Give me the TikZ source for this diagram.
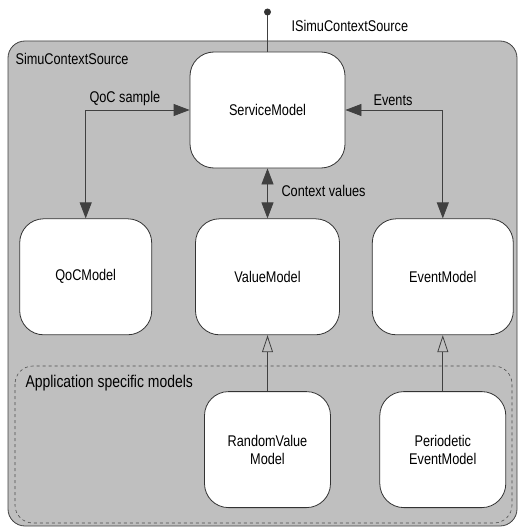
\documentclass[tikz,border=0pt]{standalone}
\usepackage{fontspec}
\setmainfont[FakeStretch=0.82]{Liberation Sans}
\usepackage{tikz}
\usetikzlibrary{arrows.meta, positioning}

\begin{document}
\begin{tikzpicture}[
  x=1pt, y=-1pt,
  font=\fontsize{15.5}{18}\selectfont,
  model/.style={rectangle, draw=black!80, fill=white, rounded corners=24pt, minimum height=116pt, align=center, line width=0.8pt},
  link/.style={{Triangle[length=16pt, width=12pt]}-{Triangle[length=16pt, width=12pt]}, draw=black!75, line width=0.8pt},
  inherit/.style={-{Triangle[open, length=17pt, width=11pt]}, draw=black!75, line width=0.8pt},
]
\useasboundingbox (0,0) rectangle (518,527);

% component frame
\draw[fill=black!25, draw=black!75, line width=0.8pt, rounded corners=17pt] (8,41) rectangle (517,526);
\node[anchor=west] (src) at (12,59) {SimuContextSource};
\draw[dashed, draw=black!70, line width=0.6pt, rounded corners=18pt] (15,366) rectangle (512,523);
\node[anchor=west, font=\fontsize{17}{20}\selectfont] (app) at (22,383) {Application specific models};

\node[model, minimum width=155pt] (svc) at (267.5,110) {ServiceModel};
\node[model, minimum width=144pt, below=50pt of svc] (val) {ValueModel};
\node[model, minimum width=132pt, left=43pt of val] (qoc) {QoCModel};
\node[model, minimum width=141pt, right=32pt of val] (evt) {EventModel};
\node[model, minimum width=126pt, below=56pt of val] (rnd) {RandomValue\\Model};
\node[model, minimum width=126pt, below=56pt of evt] (per) {Periodetic\\EventModel};

% provided interface
\coordinate (plug) at (svc.north |- 0,12);
\draw[draw=black!75, line width=0.8pt] (svc.north) -- (plug);
\fill[black!80] (plug) circle (3.5);
\node[anchor=west] (ifc) at (288,26) {ISimuContextSource};

\draw[link] (qoc) |- (svc);
\draw[link] (evt) |- (svc);
\draw[link] (svc) -- (val);
\node[anchor=south west] (qs) at (86,109) {QoC sample};
\node[anchor=south west] (ev) at (370,109) {Events};
\node[anchor=west] (cv) at (278,191) {Context values};

\draw[inherit] (rnd) -- (val);
\draw[inherit] (per) -- (evt);

\end{tikzpicture}
\end{document}
